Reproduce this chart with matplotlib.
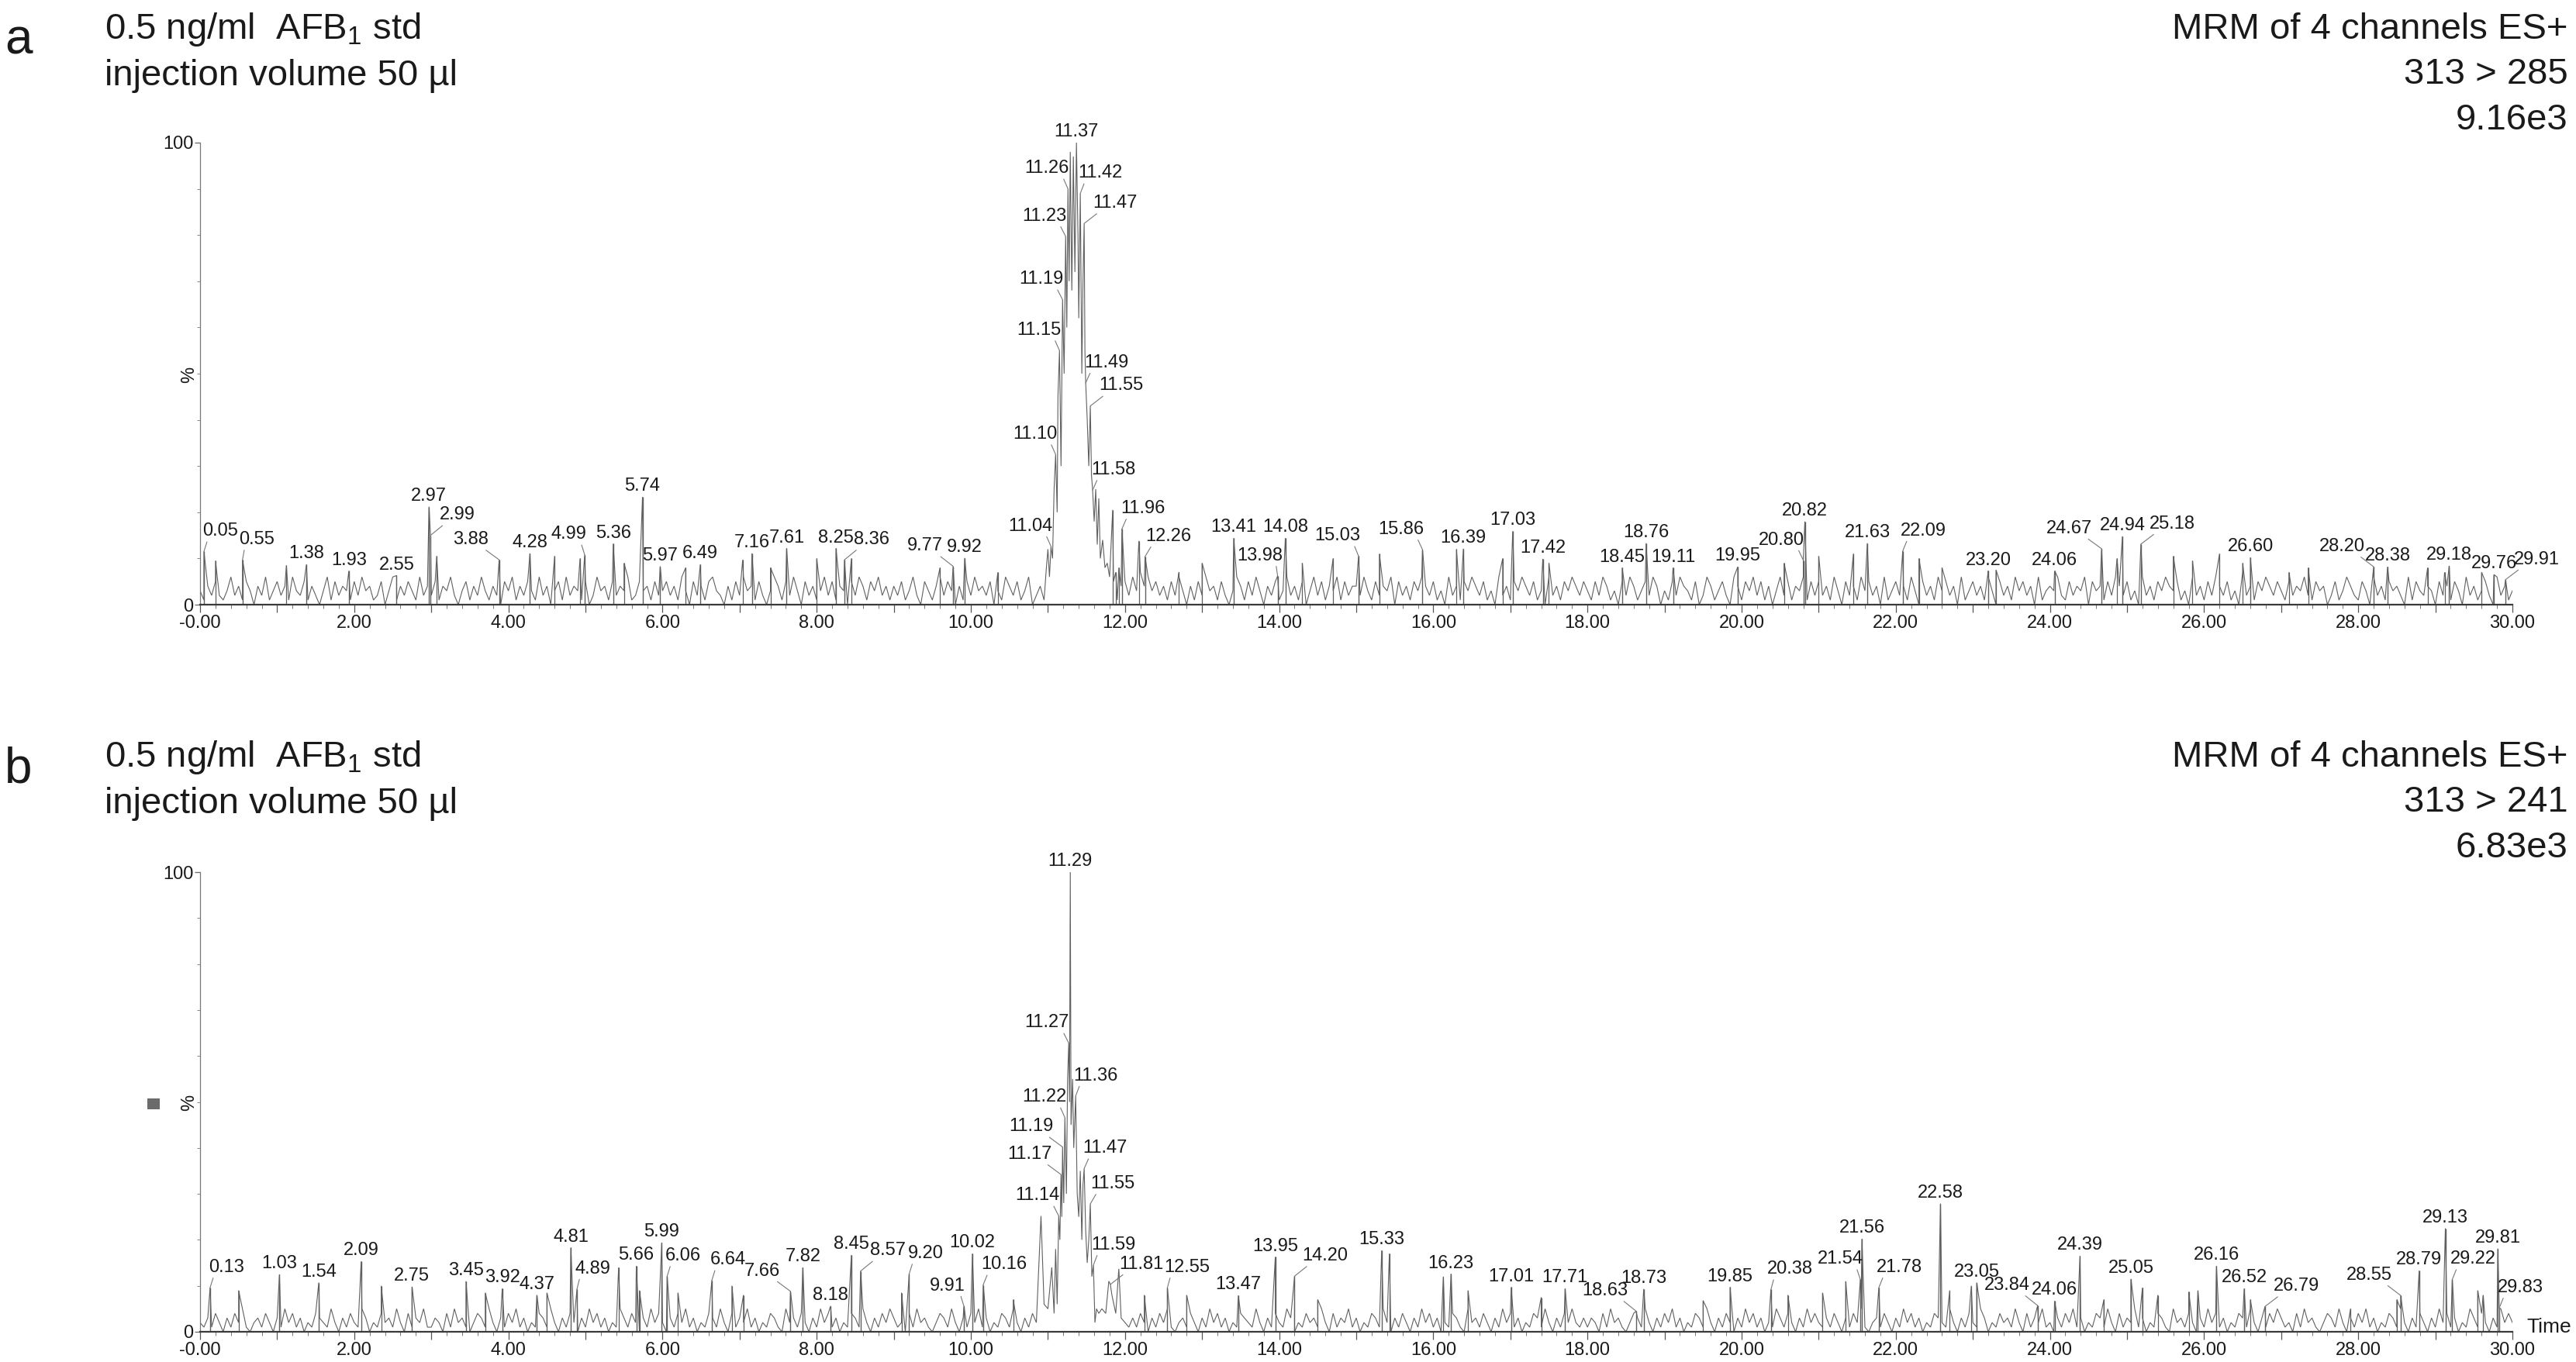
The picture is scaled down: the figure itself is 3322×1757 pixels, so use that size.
import numpy as np
import matplotlib
matplotlib.use("Agg")
import matplotlib.pyplot as plt
from matplotlib.ticker import FixedLocator, MultipleLocator, FuncFormatter
from matplotlib.patches import Rectangle

# ---------------- DATA ----------------
# Panel a : 313 > 285
a_peak_times = [0.05, 0.55, 1.38, 1.93, 2.55, 2.97, 2.99, 3.88, 4.28, 4.99, 5.36, 5.74, 5.97, 6.49,
                7.16, 7.61, 8.25, 8.36, 9.77, 9.92, 11.04, 11.10, 11.15, 11.19, 11.23, 11.26, 11.37,
                11.42, 11.47, 11.49, 11.55, 11.58, 11.96, 12.26, 13.41, 13.98, 14.08, 15.03, 15.86,
                16.39, 17.03, 17.42, 18.45, 18.76, 19.11, 19.95, 20.80, 20.82, 21.63, 22.09, 23.20,
                24.06, 24.67, 24.94, 25.18, 26.60, 28.20, 28.38, 29.18, 29.76, 29.91]
a_peak_heights = [11.5, 9.7, 8.7, 7.3, 6.3, 21.2, 15.0, 9.7, 11.1, 10.8, 13.2, 23.3, 8.3, 8.7,
                  11.1, 12.2, 12.2, 9.7, 8.3, 10.1, 12.6, 32.5, 55.0, 66.0, 79.7, 90.0, 100.0,
                  89.0, 82.5, 48.0, 43.0, 24.8, 16.4, 10.4, 14.4, 6.2, 14.4, 10.5, 11.9,
                  12.1, 15.9, 9.9, 8.0, 13.3, 8.0, 8.2, 9.6, 18.0, 13.3, 11.6, 7.3,
                  7.3, 12.1, 14.8, 13.1, 10.2, 8.2, 8.2, 8.4, 6.5, 5.4]
a_other_times = [10.98, 11.00, 11.02, 11.06, 11.08, 11.12, 11.13, 11.17, 11.21, 11.245, 11.275, 11.29,
                 11.31, 11.33, 11.35, 11.39, 11.40, 11.44, 11.455, 11.48, 11.51, 11.53, 11.565, 11.60,
                 11.62, 11.64, 11.66, 11.68, 11.71, 11.74, 11.77, 11.80, 11.84, 11.88, 11.92, 12.18,
                 0.20, 1.12, 3.07, 4.60, 4.93, 5.50, 6.30, 7.04, 7.40, 8.00, 8.45, 9.60, 10.35, 12.70,
                 13.00, 14.30, 14.70, 15.30, 16.30, 16.90, 17.50, 20.55, 21.00, 21.45, 22.30, 22.60,
                 23.30, 24.87, 25.60, 25.85, 26.20, 26.50, 27.10, 27.35, 28.90, 29.12, 29.60]
a_other_heights = [8, 12, 6, 10, 25, 20, 45, 30, 50, 60, 70, 98,
                   68, 97, 72, 80, 62, 50, 70, 55, 40, 30, 28, 18,
                   25, 13, 23, 10, 14, 8, 9, 6, 20.5, 7, 8, 13.8,
                   9.5, 8.5, 10.5, 10.5, 10, 9, 8, 9.7, 8, 10, 10, 8, 7, 7,
                   9, 9, 10, 11, 12, 10, 9, 9, 10.5, 11, 10, 8,
                   7.5, 10, 10.5, 9.5, 11, 9, 7, 8, 8, 7, 7]
# baseline noise, % value every 0.05 min from 0 to 30
a_noise = ("314252136241530426135241632514203615243152634125036142531624"
           "251436203514263142053614253162403516243150263415243612534152"
           "352416305241563204152634152036415263052413625143052641536241"
           "425136205314625304152634250316425136024153624513062415362514"
           "526374635241526304152634152036415263042513624150362514361524"
           "426315243605241536425130624153642513062415364251306241536425"
           "315264130526413526403152643150264135206415362514036251436152"
           "524163052416352406135241630524163524061352416305241635240613"
           "436215243605341526425130624153643513062415264251307241536425"
           "315243621534025136421530624153420615324305241530624135206241"
           "3")

# Panel b : 313 > 241
b_peak_times = [0.13, 1.03, 1.54, 2.09, 2.75, 3.45, 3.92, 4.37, 4.81, 4.89, 5.66, 5.99, 6.06, 6.64,
                7.66, 7.82, 8.18, 8.45, 8.57, 9.20, 9.91, 10.02, 10.16, 11.14, 11.17, 11.19, 11.22,
                11.27, 11.29, 11.36, 11.47, 11.55, 11.59, 11.81, 12.55, 13.47, 13.95, 14.20, 15.33,
                16.23, 17.01, 17.71, 18.63, 18.73, 19.85, 20.38, 21.54, 21.56, 21.78, 22.58, 23.05,
                23.84, 24.06, 24.39, 25.05, 26.16, 26.52, 26.79, 28.55, 28.79, 29.13, 29.22, 29.81,
                29.83]
b_peak_heights = [9.6, 12.5, 10.7, 15.3, 9.8, 11.0, 9.4, 8.0, 18.3, 9.3, 14.3, 19.4, 12.1, 11.2,
                  8.8, 14.0, 5.6, 16.7, 13.2, 12.6, 5.6, 17.0, 10.2, 25.2, 34.2, 40.2, 46.6,
                  62.8, 100.0, 51.3, 35.5, 27.8, 14.5, 10.3, 9.6, 7.9, 16.3, 12.1, 17.7,
                  12.6, 9.7, 9.4, 4.5, 9.3, 9.7, 9.2, 11.4, 20.2, 9.6, 27.9, 10.7,
                  5.7, 6.7, 16.5, 11.5, 14.3, 9.4, 5.5, 7.9, 13.3, 22.5, 11.4, 18.1,
                  5.2]
b_other_times = [10.91, 10.95, 11.00, 11.05, 11.08, 11.10, 11.12, 11.155, 11.18, 11.205, 11.24, 11.255,
                 11.28, 11.30, 11.32, 11.335, 11.38, 11.40, 11.42, 11.44, 11.455, 11.49, 11.51, 11.53,
                 11.57, 11.61, 11.63, 11.66, 11.70, 11.75, 11.79, 11.83, 11.88, 11.92, 11.95,
                 0.50, 2.35, 3.70, 4.50, 5.43, 5.70, 6.20, 6.90, 7.05, 9.10, 10.55, 12.25, 12.80,
                 14.50, 15.43, 16.13, 16.45, 17.40, 19.50, 20.60, 21.05, 21.35, 22.70, 22.98, 24.70,
                 25.20, 25.40, 25.80, 25.92, 26.60, 27.90, 28.50, 29.55, 29.62]
b_other_heights = [25.2, 6, 5, 14, 4, 18, 6, 20, 25, 28, 30, 55,
                   50, 45, 55, 40, 30, 25, 35, 20, 32, 22, 15, 20,
                   12, 2, 5, 4, 5, 4, 11, 8, 4, 13.7, 3,
                   9, 10, 8.5, 8.5, 14, 9, 8.5, 10, 8, 8.5, 7, 8, 8,
                   7, 17, 12, 9, 7.5, 6.8, 8, 8.5, 11, 9, 10, 7,
                   9.6, 8, 8.7, 9, 7, 5, 7, 9, 8]
b_noise = ("213142031425102314203152413021432152031421530214231520413251"
           "132041523102431520314251302143152031420315241302153142031524"
           "203142513021431520413251302143105231420315241302143152031425"
           "312041523102431520314251302143152031420315241302153142031524"
           "213142031425102314203152413021432152031421530214231520413251"
           "302143152031420315241302143105231420315241302143152031425213"
           "132041523102431520314251302143152031420315241302153142031524"
           "213142031425102314203152413021432152031421530214231520413251"
           "203142513021431520413251302143105231420315241302143152031425"
           "312041523102431520314251302143152031420315241302153142031524"
           "2")

x_tick_values = list(range(0, 31))

# ---------------- LAYOUT / STYLE ----------------
a_label_dx = {'0.05': 0.21, '0.55': 0.19, '2.99': 0.35, '3.88': -0.37, '4.99': -0.21, '8.36': 0.35,
              '9.77': -0.36, '11.04': -0.27, '11.10': -0.27, '11.15': -0.27, '11.19': -0.28,
              '11.23': -0.28, '11.26': -0.27, '11.42': 0.26, '11.47': 0.40, '11.49': 0.27,
              '11.55': 0.40, '11.58': 0.27, '11.96': 0.27, '12.26': 0.30, '13.98': -0.23,
              '15.03': -0.27, '15.86': -0.28, '20.80': -0.28, '22.09': 0.27, '24.67': -0.42,
              '25.18': 0.41, '28.20': -0.41, '29.91': 0.41}
b_label_dx = {'0.13': 0.21, '4.89': 0.20, '6.06': 0.21, '6.64': 0.21, '7.66': -0.37, '8.57': 0.35,
              '9.20': 0.21, '9.91': -0.21, '10.16': 0.27, '11.14': -0.28, '11.17': -0.41,
              '11.19': -0.41, '11.22': -0.27, '11.27': -0.28, '11.36': 0.26, '11.47': 0.27,
              '11.55': 0.29, '11.59': 0.26, '11.81': 0.40, '12.55': 0.25, '14.20': 0.40,
              '18.63': -0.40, '20.38': 0.25, '21.54': -0.26, '21.78': 0.27, '23.84': -0.40,
              '26.79': 0.41, '28.55': -0.41, '29.22': 0.27, '29.83': 0.27}

W, H = 3323, 1757
FONT = ['Liberation Sans', 'DejaVu Sans']
plt.rcParams['font.family'] = FONT
plt.rcParams['mathtext.fontset'] = 'custom'
plt.rcParams['mathtext.rm'] = 'Liberation Sans'

TRACE = '#606060'
SMALL = 17
BIG = 34

fig = plt.figure(figsize=(W / 100, H / 100), dpi=100)

def fx(px):
    return px / W

def fy(py):
    return 1 - py / H

ax_left, ax_right = 258, 3240
ax_a = fig.add_axes([fx(ax_left), fy(780), fx(ax_right - ax_left), (780 - 184) / H])
ax_b = fig.add_axes([fx(ax_left), fy(1718), fx(ax_right - ax_left), (1718 - 1125) / H])

pts_per_min = (ax_right - ax_left) / 30 * 0.72


def draw_panel(ax, peak_t, peak_h, other_t, other_h, noise, excl, label_dx):
    noise_vals = np.array([int(c) for c in noise], dtype=float)
    noise_t = np.arange(len(noise_vals)) * 0.05
    keep = (noise_t < excl[0]) | (noise_t > excl[1])
    t = np.concatenate([noise_t[keep], np.array(peak_t), np.array(other_t)])
    h = np.concatenate([noise_vals[keep], np.array(peak_h), np.array(other_h)])
    order = np.argsort(t, kind='stable')
    ax.plot(t[order], h[order], color=TRACE, lw=0.8, solid_joinstyle='miter')
    pt = np.array(peak_t); ph = np.array(peak_h)
    ot = np.array(other_t); oh = np.array(other_h)
    outp = (pt < excl[0]) | (pt > excl[1])
    outo = (ot < excl[0]) | (ot > excl[1])
    ax.vlines(pt[outp], 0, ph[outp], color=TRACE, lw=1.0)
    ax.vlines(ot[outo], 0, oh[outo], color=TRACE, lw=0.9)

    for tt, hh in zip(peak_t, peak_h):
        lbl = f"{tt:.2f}"
        dx = label_dx.get(lbl, 0.0)
        if dx == 0.0:
            ax.annotate(lbl, xy=(tt, hh), xytext=(0, 2), textcoords='offset points',
                        ha='center', va='bottom', fontsize=SMALL, color='#1a1a1a',
                        annotation_clip=False)
        else:
            rp = (0.85, 0.0) if dx < 0 else (0.15, 0.0)
            ax.annotate(lbl, xy=(tt, hh), xytext=(dx * pts_per_min, 11), textcoords='offset points',
                        ha='center', va='bottom', fontsize=SMALL, color='#1a1a1a',
                        annotation_clip=False,
                        arrowprops=dict(arrowstyle='-', color='#777777', lw=0.8,
                                        shrinkA=0, shrinkB=0, relpos=rp))

    ax.set_xlim(0, 30)
    ax.set_ylim(0, 100)
    for s in ('top', 'right'):
        ax.spines[s].set_visible(False)
    ax.spines['left'].set_color('#777777')
    ax.spines['left'].set_linewidth(0.9)
    ax.spines['bottom'].set_color('#3a3a3a')
    ax.spines['bottom'].set_linewidth(1.6)
    ax.patch.set_alpha(0)

    ax.xaxis.set_major_locator(FixedLocator(x_tick_values))
    ax.xaxis.set_minor_locator(MultipleLocator(0.2))
    ax.xaxis.set_major_formatter(FuncFormatter(
        lambda v, p: ('-0.00' if abs(v) < 1e-9 else f"{v:.2f}") if int(round(v)) % 2 == 0 else ''))
    ax.tick_params(axis='x', which='major', length=7, width=0.9, color='#555555',
                   labelsize=SMALL, pad=2, labelcolor='#1a1a1a')
    ax.tick_params(axis='x', which='minor', length=3.5, width=0.7, color='#777777')

    ax.yaxis.set_major_locator(FixedLocator([0, 100]))
    ax.yaxis.set_minor_locator(MultipleLocator(10))
    ax.tick_params(axis='y', which='major', length=5, width=0.9, color='#666666',
                   labelsize=SMALL, pad=1, labelcolor='#1a1a1a')
    ax.tick_params(axis='y', which='minor', length=3, width=0.7, color='#888888')


draw_panel(ax_a, a_peak_times, a_peak_heights, a_other_times, a_other_heights, a_noise,
           (10.96, 11.82), a_label_dx)
draw_panel(ax_b, b_peak_times, b_peak_heights, b_other_times, b_other_heights, b_noise,
           (10.89, 11.97), b_label_dx)

# headers
for off, letter, chan, scale in [(0, 'a', '313 > 285', '9.16e3'), (939, 'b', '313 > 241', '6.83e3')]:
    fig.text(fx(6), fy(70 + off), letter, fontsize=46, ha='left', va='baseline', color='#1a1a1a')
    fig.text(fx(135), fy(50 + off), r'0.5 ng/ml  AFB$_{\mathregular{1}}$ std', fontsize=BIG,
             ha='left', va='baseline', color='#1a1a1a')
    fig.text(fx(135), fy(110 + off), 'injection volume 50 µl', fontsize=BIG,
             ha='left', va='baseline', color='#1a1a1a')
    fig.text(fx(3312), fy(50 + off), 'MRM of 4 channels ES+', fontsize=BIG,
             ha='right', va='baseline', color='#1a1a1a')
    fig.text(fx(3312), fy(108 + off), chan, fontsize=BIG, ha='right', va='baseline', color='#1a1a1a')
    fig.text(fx(3312), fy(167 + off), scale, fontsize=BIG, ha='right', va='baseline', color='#1a1a1a')

fig.text(fx(244), fy(483), '%', fontsize=SMALL, rotation=90, ha='center', va='center', color='#1a1a1a')
fig.text(fx(244), fy(1422), '%', fontsize=SMALL, rotation=90, ha='center', va='center', color='#1a1a1a')
fig.text(fx(3258), fy(1712), 'Time', fontsize=19, ha='left', va='center', color='#1a1a1a')
fig.patches.append(Rectangle((fx(190), fy(1431)), 16 / W, 14 / H, transform=fig.transFigure,
                             facecolor='#6b6b6b', edgecolor='none'))

fig.savefig('out.png', dpi=100)
